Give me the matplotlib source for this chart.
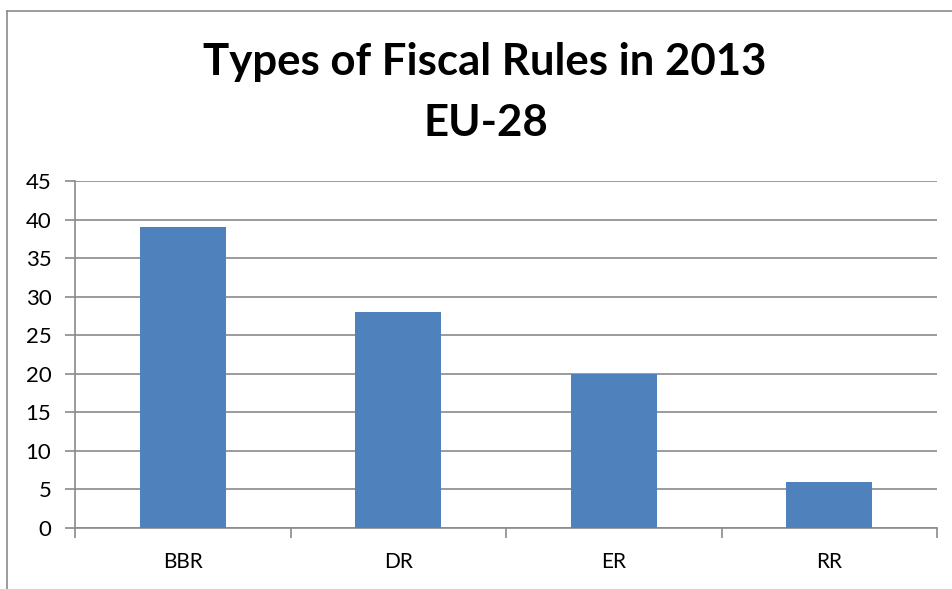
import matplotlib
matplotlib.use("Agg")
import matplotlib.pyplot as plt
from matplotlib.lines import Line2D

categories = ["BBR", "DR", "ER", "RR"]
values = [39, 28, 20, 6]
yticks = [0, 5, 10, 15, 20, 25, 30, 35, 40, 45]
title_lines = ["Types of Fiscal Rules in 2013", "EU-28"]

W, H = 952, 589
fig = plt.figure(figsize=(W / 100, H / 100), dpi=100)
plt.rcParams["font.family"] = ["Lato", "DejaVu Sans"]

ax = fig.add_axes([75 / W, 1 - 528 / H, (937 - 75) / W, (528 - 181) / H])

grid_col = "#8a8a8a"
ax.bar(range(len(categories)), values, width=0.4, color="#4F81BD", zorder=3)
ax.set_xlim(-0.5, len(categories) - 0.5)
ax.set_ylim(0, 45)
ax.set_yticks(yticks)
ax.set_yticklabels([str(v) for v in yticks], fontsize=16)
ax.yaxis.grid(True, color=grid_col, linewidth=1.2, zorder=0)
ax.set_axisbelow(True)

# category labels centred, tick marks on category boundaries
ax.set_xticks(range(len(categories)))
ax.set_xticklabels(categories, fontsize=15)
ax.tick_params(axis="x", length=0, pad=17)
ax.set_xticks([i - 0.5 for i in range(len(categories) + 1)], minor=True)
ax.tick_params(axis="x", which="minor", length=7, width=1.2, color=grid_col, direction="out")
ax.tick_params(axis="y", length=7, width=1.2, color=grid_col, direction="out", pad=10)

for side in ["top", "right"]:
    ax.spines[side].set_visible(False)
for side in ["left", "bottom"]:
    ax.spines[side].set_color(grid_col)
    ax.spines[side].set_linewidth(1.2)

fig.text(485 / W, 1 - 75 / H, title_lines[0], ha="center", va="baseline",
         fontsize=31.5, fontweight="bold")
fig.text(486 / W, 1 - 136 / H, title_lines[1], ha="center", va="baseline",
         fontsize=31.5, fontweight="bold")

# chart-area frame (left and top edges)
fig.add_artist(Line2D([6.5 / W, 6.5 / W], [0, 1 - 10.5 / H], color="#8a8a8a", linewidth=1.2))
fig.add_artist(Line2D([6.5 / W, 1], [1 - 10.5 / H, 1 - 10.5 / H], color="#8a8a8a", linewidth=1.2))

fig.savefig("out.png", dpi=100)
